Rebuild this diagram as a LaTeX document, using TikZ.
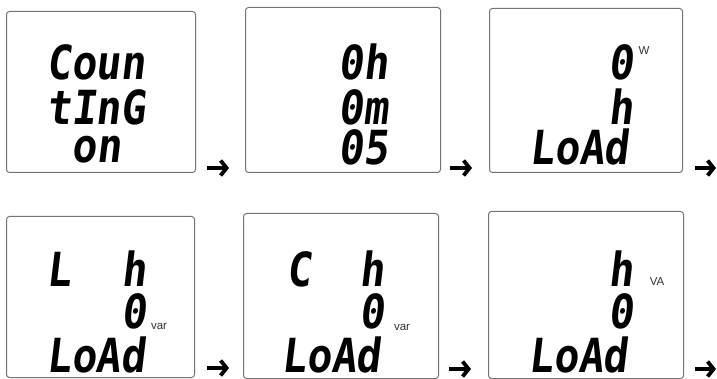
\documentclass[tikz,border=0pt]{standalone}
\usepackage{fontspec}
\setmainfont{Liberation Sans}
\newfontfamily\segfont[FakeSlant=0.12,FakeStretch=0.88]{DejaVu Sans Mono}
\usetikzlibrary{arrows.meta}
\begin{document}
\begin{tikzpicture}[x=1pt,y=-1pt,
  panel/.style={draw=black!55, line width=1pt, rounded corners=3pt, fill=white, inner sep=0pt, anchor=north west},
  seg/.style={inner sep=0pt, anchor=base west, text height=33pt, text depth=0pt,
    font=\segfont\bfseries\fontsize{47}{47}\selectfont},
  unit/.style={inner sep=0pt, text height=8pt, text depth=0pt, text=black!80, font=\fontsize{11.5}{12}\selectfont},
  nextarrow/.style={line width=3.8pt, -{Straight Barb[length=6pt,width=15pt]}}]
\useasboundingbox (0,0) rectangle (717,379);
% panels
\node[panel, minimum width=189pt, minimum height=161pt] (p1) at (6,11) {};
\node[panel, minimum width=195pt, minimum height=165pt] (p2) at (245,7) {};
\node[panel, minimum width=193pt, minimum height=164pt] (p3) at (489,8) {};
\node[panel, minimum width=188pt, minimum height=161pt] (p4) at (6,216) {};
\node[panel, minimum width=195pt, minimum height=165pt] (p5) at (243,213) {};
\node[panel, minimum width=195pt, minimum height=167pt] (p6) at (488,211) {};
% panel 1
\node[seg] (t11) at (46,80) {Coun};
\node[seg] (t12) at (46,125) {tInG};
\node[seg] (t13) at (71,163) {on};
% panel 2
\node[seg] (t21) at (338,80) {0h};
\node[seg] (t22) at (338,125) {0m};
\node[seg] (t23) at (338,165) {05};
% panel 3
\node[seg] (t31) at (608,80) {0};
\node[unit] (u31) at (644,51) {W};
\node[seg] (t32) at (608,125) {h};
\node[seg] (t33) at (529,165) {LoAd};
% panel 4
\node[seg] (t41) at (46,287) {L};
\node[seg] (t42) at (121,287) {h};
\node[seg] (t43) at (121,328) {0};
\node[unit] (u41) at (159,325) {var};
\node[seg] (t44) at (46,372) {LoAd};
% panel 5
\node[seg] (t51) at (286,287) {C};
\node[seg] (t52) at (359,287) {h};
\node[seg] (t53) at (359,328) {0};
\node[unit] (u51) at (402,326) {var};
\node[seg] (t54) at (281,372) {LoAd};
% panel 6
\node[seg] (t61) at (608,287) {h};
\node[seg] (t62) at (608,328) {0};
\node[unit] (u61) at (657,281) {VA};
\node[seg] (t63) at (528,372) {LoAd};
% arrows
\coordinate (a1s) at (207,168); \coordinate (a1e) at (229,168);
\coordinate (a2s) at (450,168); \coordinate (a2e) at (472,168);
\coordinate (a3s) at (695,168); \coordinate (a3e) at (716,168);
\coordinate (a4s) at (207,368); \coordinate (a4e) at (229,368);
\coordinate (a5s) at (449,369); \coordinate (a5e) at (471,369);
\coordinate (a6s) at (695,369); \coordinate (a6e) at (716,369);
\foreach \i in {1,...,6} {\draw[nextarrow] (a\i s) -- (a\i e);}
\end{tikzpicture}
\end{document}
